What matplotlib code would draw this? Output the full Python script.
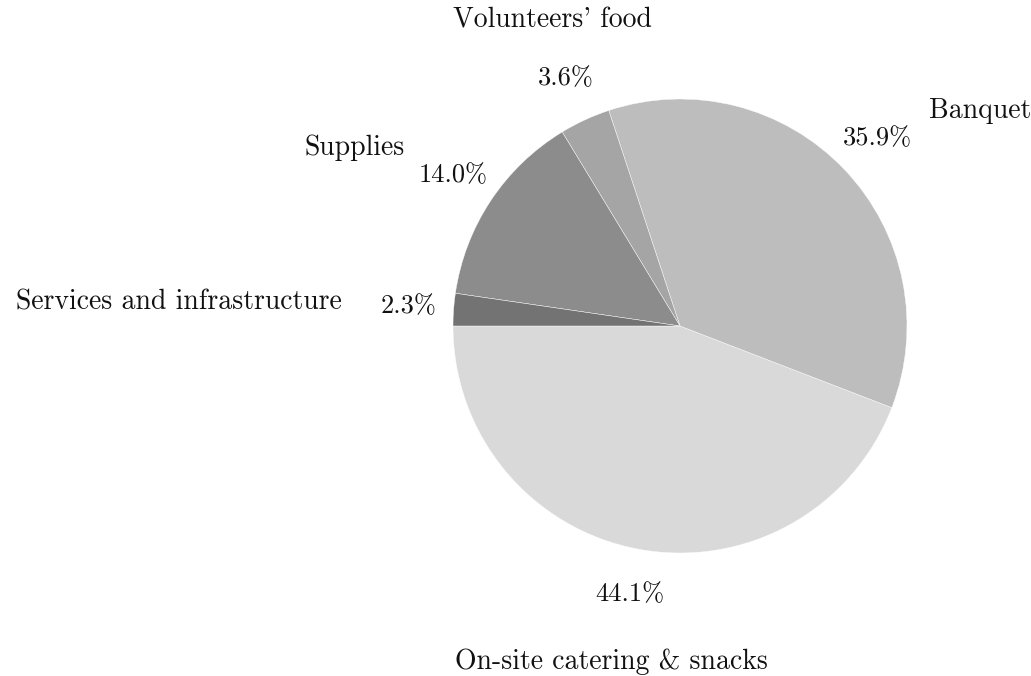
import matplotlib
matplotlib.use("Agg")
import matplotlib.pyplot as plt

categories = ["On-site catering & snacks", "Banquet", "Volunteers' food", "Supplies", "Services and infrastructure"]
shares = [44.1, 35.9, 3.6, 14.0, 2.3]
colors = ["#d9d9d9", "#bdbdbd", "#a5a5a5", "#8c8c8c", "#737373"]

# label placement (style)
label_pos = [(-0.991, -1.48, "left"), (1.097, 0.95, "left"), (-0.564, 1.348, "center"),
             (-1.211, 0.784, "right"), (-1.489, 0.106, "right")]

plt.rcParams["font.family"] = "cmr10"
plt.rcParams["axes.formatter.use_mathtext"] = True

fig = plt.figure(figsize=(10.31, 6.76), dpi=100)
ax = fig.add_axes([0, 0, 1, 1])
wedges, texts, autotexts = ax.pie(
    shares, labels=categories, colors=colors, startangle=180, counterclock=True,
    autopct="%.1f%%", pctdistance=1.2, labeldistance=1.45,
    wedgeprops=dict(edgecolor="white", linewidth=0.3),
    textprops=dict(fontsize=20, color="#111111"))
for t, (x, y, ha) in zip(texts, label_pos):
    t.set_position((x, y))
    t.set_ha(ha)
    t.set_va("center")
for t in autotexts:
    t.set_va("center")
    t.set_ha("center")
    t.set_fontsize(19)

ax.set_xlim(-680 / 227, (1031 - 680) / 227)
ax.set_ylim(-(676 - 326) / 227, 326 / 227)
ax.set_aspect("equal")
ax.axis("off")
fig.savefig("out.png", dpi=100)
